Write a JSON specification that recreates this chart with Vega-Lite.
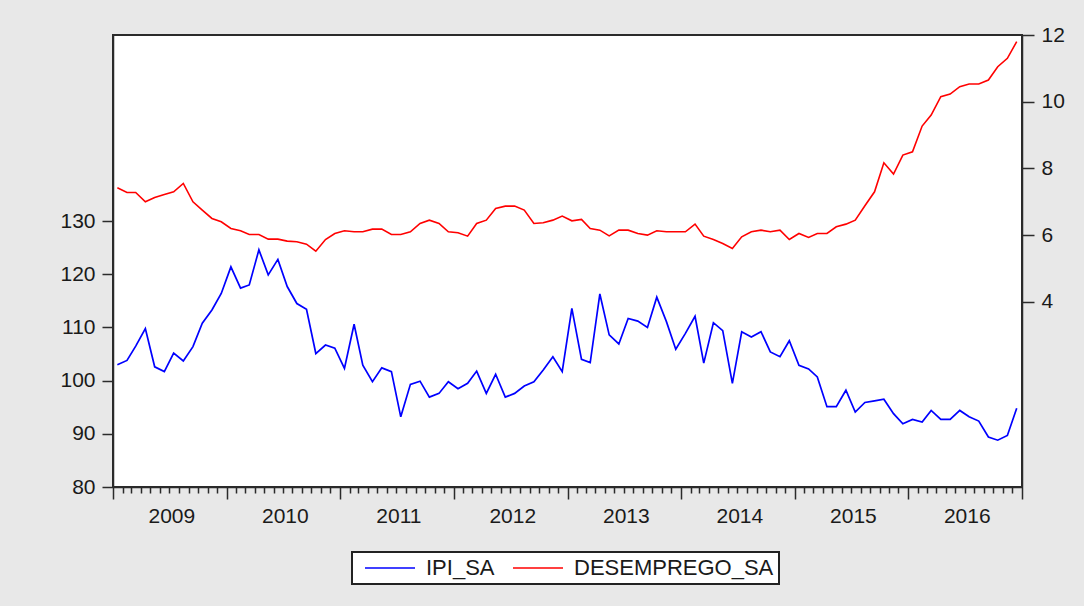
{
 "$schema": "https://vega.github.io/schema/vega-lite/v6.json",
 "width": 909,
 "height": 452,
 "autosize": {"type": "none"},
 "padding": {"left": 113, "top": 35, "right": 62, "bottom": 119},
 "background": "#e8e8e8",
 "config": {
  "view": {"fill": "white", "stroke": "#2b2b2b", "strokeWidth": 2},
  "font": "Liberation Sans",
  "axis": {"labelFont": "Liberation Sans", "labelFontSize": 21, "labelColor": "#1a1a1a", "domainColor": "#2b2b2b", "tickColor": "#2b2b2b", "domainWidth": 1.5, "tickWidth": 1.5, "grid": false}
 },
 "data": {"values": [
  {"date":"2009-01-15","IPI_SA":103.0,"DESEMPREGO_SA":7.42},
  {"date":"2009-02-15","IPI_SA":103.8,"DESEMPREGO_SA":7.28},
  {"date":"2009-03-15","IPI_SA":106.5,"DESEMPREGO_SA":7.28},
  {"date":"2009-04-15","IPI_SA":109.8,"DESEMPREGO_SA":7.0},
  {"date":"2009-05-15","IPI_SA":102.6,"DESEMPREGO_SA":7.13},
  {"date":"2009-06-15","IPI_SA":101.7,"DESEMPREGO_SA":7.22},
  {"date":"2009-07-15","IPI_SA":105.2,"DESEMPREGO_SA":7.30},
  {"date":"2009-08-15","IPI_SA":103.7,"DESEMPREGO_SA":7.55},
  {"date":"2009-09-15","IPI_SA":106.4,"DESEMPREGO_SA":7.0},
  {"date":"2009-10-15","IPI_SA":110.8,"DESEMPREGO_SA":6.75},
  {"date":"2009-11-15","IPI_SA":113.3,"DESEMPREGO_SA":6.5},
  {"date":"2009-12-15","IPI_SA":116.4,"DESEMPREGO_SA":6.4},
  {"date":"2010-01-15","IPI_SA":121.4,"DESEMPREGO_SA":6.2},
  {"date":"2010-02-15","IPI_SA":117.4,"DESEMPREGO_SA":6.13},
  {"date":"2010-03-15","IPI_SA":118.0,"DESEMPREGO_SA":6.02},
  {"date":"2010-04-15","IPI_SA":124.6,"DESEMPREGO_SA":6.02},
  {"date":"2010-05-15","IPI_SA":119.9,"DESEMPREGO_SA":5.88},
  {"date":"2010-06-15","IPI_SA":122.8,"DESEMPREGO_SA":5.88},
  {"date":"2010-07-15","IPI_SA":117.7,"DESEMPREGO_SA":5.82},
  {"date":"2010-08-15","IPI_SA":114.5,"DESEMPREGO_SA":5.8},
  {"date":"2010-09-15","IPI_SA":113.4,"DESEMPREGO_SA":5.73},
  {"date":"2010-10-15","IPI_SA":105.1,"DESEMPREGO_SA":5.52},
  {"date":"2010-11-15","IPI_SA":106.7,"DESEMPREGO_SA":5.87},
  {"date":"2010-12-15","IPI_SA":106.1,"DESEMPREGO_SA":6.05},
  {"date":"2011-01-15","IPI_SA":102.3,"DESEMPREGO_SA":6.13},
  {"date":"2011-02-15","IPI_SA":110.6,"DESEMPREGO_SA":6.1},
  {"date":"2011-03-15","IPI_SA":102.9,"DESEMPREGO_SA":6.1},
  {"date":"2011-04-15","IPI_SA":99.8,"DESEMPREGO_SA":6.18},
  {"date":"2011-05-15","IPI_SA":102.4,"DESEMPREGO_SA":6.18},
  {"date":"2011-06-15","IPI_SA":101.7,"DESEMPREGO_SA":6.02},
  {"date":"2011-07-15","IPI_SA":93.2,"DESEMPREGO_SA":6.02},
  {"date":"2011-08-15","IPI_SA":99.3,"DESEMPREGO_SA":6.1},
  {"date":"2011-09-15","IPI_SA":99.9,"DESEMPREGO_SA":6.35},
  {"date":"2011-10-15","IPI_SA":96.9,"DESEMPREGO_SA":6.45},
  {"date":"2011-11-15","IPI_SA":97.6,"DESEMPREGO_SA":6.35},
  {"date":"2011-12-15","IPI_SA":99.8,"DESEMPREGO_SA":6.1},
  {"date":"2012-01-15","IPI_SA":98.5,"DESEMPREGO_SA":6.07},
  {"date":"2012-02-15","IPI_SA":99.5,"DESEMPREGO_SA":5.97},
  {"date":"2012-03-15","IPI_SA":101.8,"DESEMPREGO_SA":6.35},
  {"date":"2012-04-15","IPI_SA":97.6,"DESEMPREGO_SA":6.45},
  {"date":"2012-05-15","IPI_SA":101.2,"DESEMPREGO_SA":6.8},
  {"date":"2012-06-15","IPI_SA":96.9,"DESEMPREGO_SA":6.87},
  {"date":"2012-07-15","IPI_SA":97.6,"DESEMPREGO_SA":6.87},
  {"date":"2012-08-15","IPI_SA":99.0,"DESEMPREGO_SA":6.75},
  {"date":"2012-09-15","IPI_SA":99.8,"DESEMPREGO_SA":6.35},
  {"date":"2012-10-15","IPI_SA":102.0,"DESEMPREGO_SA":6.37},
  {"date":"2012-11-15","IPI_SA":104.5,"DESEMPREGO_SA":6.45},
  {"date":"2012-12-15","IPI_SA":101.7,"DESEMPREGO_SA":6.57},
  {"date":"2013-01-15","IPI_SA":113.6,"DESEMPREGO_SA":6.43},
  {"date":"2013-02-15","IPI_SA":104.0,"DESEMPREGO_SA":6.47},
  {"date":"2013-03-15","IPI_SA":103.4,"DESEMPREGO_SA":6.2},
  {"date":"2013-04-15","IPI_SA":116.3,"DESEMPREGO_SA":6.15},
  {"date":"2013-05-15","IPI_SA":108.6,"DESEMPREGO_SA":5.98},
  {"date":"2013-06-15","IPI_SA":106.9,"DESEMPREGO_SA":6.15},
  {"date":"2013-07-15","IPI_SA":111.7,"DESEMPREGO_SA":6.15},
  {"date":"2013-08-15","IPI_SA":111.2,"DESEMPREGO_SA":6.05},
  {"date":"2013-09-15","IPI_SA":110.0,"DESEMPREGO_SA":6.0},
  {"date":"2013-10-15","IPI_SA":115.7,"DESEMPREGO_SA":6.13},
  {"date":"2013-11-15","IPI_SA":111.1,"DESEMPREGO_SA":6.1},
  {"date":"2013-12-15","IPI_SA":105.9,"DESEMPREGO_SA":6.1},
  {"date":"2014-01-15","IPI_SA":108.9,"DESEMPREGO_SA":6.1},
  {"date":"2014-02-15","IPI_SA":112.1,"DESEMPREGO_SA":6.33},
  {"date":"2014-03-15","IPI_SA":103.3,"DESEMPREGO_SA":5.97},
  {"date":"2014-04-15","IPI_SA":110.9,"DESEMPREGO_SA":5.87},
  {"date":"2014-05-15","IPI_SA":109.4,"DESEMPREGO_SA":5.75},
  {"date":"2014-06-15","IPI_SA":99.5,"DESEMPREGO_SA":5.6},
  {"date":"2014-07-15","IPI_SA":109.2,"DESEMPREGO_SA":5.95},
  {"date":"2014-08-15","IPI_SA":108.2,"DESEMPREGO_SA":6.1},
  {"date":"2014-09-15","IPI_SA":109.2,"DESEMPREGO_SA":6.15},
  {"date":"2014-10-15","IPI_SA":105.4,"DESEMPREGO_SA":6.1},
  {"date":"2014-11-15","IPI_SA":104.5,"DESEMPREGO_SA":6.15},
  {"date":"2014-12-15","IPI_SA":107.5,"DESEMPREGO_SA":5.87},
  {"date":"2015-01-15","IPI_SA":102.9,"DESEMPREGO_SA":6.05},
  {"date":"2015-02-15","IPI_SA":102.2,"DESEMPREGO_SA":5.93},
  {"date":"2015-03-15","IPI_SA":100.7,"DESEMPREGO_SA":6.05},
  {"date":"2015-04-15","IPI_SA":95.1,"DESEMPREGO_SA":6.05},
  {"date":"2015-05-15","IPI_SA":95.1,"DESEMPREGO_SA":6.25},
  {"date":"2015-06-15","IPI_SA":98.2,"DESEMPREGO_SA":6.33},
  {"date":"2015-07-15","IPI_SA":94.1,"DESEMPREGO_SA":6.45},
  {"date":"2015-08-15","IPI_SA":95.9,"DESEMPREGO_SA":6.88},
  {"date":"2015-09-15","IPI_SA":96.2,"DESEMPREGO_SA":7.3},
  {"date":"2015-10-15","IPI_SA":96.5,"DESEMPREGO_SA":8.17},
  {"date":"2015-11-15","IPI_SA":93.8,"DESEMPREGO_SA":7.83},
  {"date":"2015-12-15","IPI_SA":91.9,"DESEMPREGO_SA":8.4},
  {"date":"2016-01-15","IPI_SA":92.7,"DESEMPREGO_SA":8.5},
  {"date":"2016-02-15","IPI_SA":92.2,"DESEMPREGO_SA":9.27},
  {"date":"2016-03-15","IPI_SA":94.4,"DESEMPREGO_SA":9.6},
  {"date":"2016-04-15","IPI_SA":92.7,"DESEMPREGO_SA":10.15},
  {"date":"2016-05-15","IPI_SA":92.7,"DESEMPREGO_SA":10.23},
  {"date":"2016-06-15","IPI_SA":94.4,"DESEMPREGO_SA":10.45},
  {"date":"2016-07-15","IPI_SA":93.2,"DESEMPREGO_SA":10.53},
  {"date":"2016-08-15","IPI_SA":92.4,"DESEMPREGO_SA":10.53},
  {"date":"2016-09-15","IPI_SA":89.4,"DESEMPREGO_SA":10.65},
  {"date":"2016-10-15","IPI_SA":88.8,"DESEMPREGO_SA":11.05},
  {"date":"2016-11-15","IPI_SA":89.7,"DESEMPREGO_SA":11.3},
  {"date":"2016-12-15","IPI_SA":94.8,"DESEMPREGO_SA":11.8}
 ]},
 "encoding": {
  "x": {
   "field": "date", "type": "temporal",
   "scale": {"type": "utc", "domain": [{"year": 2009, "month": 1, "date": 1, "utc": true}, {"year": 2017, "month": 1, "date": 1, "utc": true}], "nice": false},
   "axis": {
    "title": null,
    "tickCount": {"interval": "month", "step": 1},
    "tickSize": {"condition": {"test": "utcmonth(datum.value) === 0", "value": 12}, "value": 6},
    "labelExpr": "utcmonth(datum.value) === 6 ? utcFormat(datum.value, '%Y') : ''",
    "labelOverlap": false,
    "labelFlush": false,
    "labelBound": false,
    "labelPadding": 12,
    "labelOffset": 2
   }
  }
 },
 "layer": [
  {
   "mark": {"type": "line", "strokeWidth": 1.7},
   "encoding": {
    "y": {"field": "IPI_SA", "type": "quantitative",
     "scale": {"domain": [80, 165], "nice": false, "zero": false},
     "axis": {"title": null, "orient": "left", "values": [80, 90, 100, 110, 120, 130], "tickSize": 11, "labelPadding": 7}},
    "color": {"datum": "IPI_SA", "type": "nominal",
     "scale": {"domain": ["IPI_SA", "DESEMPREGO_SA"], "range": ["#0000ff", "#ff0000"]},
     "legend": {"title": null, "orient": "none", "legendX": 239, "legendY": 517, "direction": "horizontal",
      "symbolType": "M-5,0H5", "symbolSize": 100, "symbolStrokeWidth": 1.5,
      "labelFont": "Liberation Sans", "labelFontSize": 22, "labelColor": "#1a1a1a", "labelOffset": 25, "labelLimit": 400,
      "columnPadding": 10, "padding": 5, "symbolOffset": 22,
      "fillColor": "white", "strokeColor": "#222",
      "encode": {"legend": {"update": {"strokeWidth": {"value": 2}}}}}}
   }
  },
  {
   "mark": {"type": "line", "strokeWidth": 1.6},
   "encoding": {
    "y": {"field": "DESEMPREGO_SA", "type": "quantitative",
     "scale": {"domain": [-1.55, 12], "nice": false, "zero": false},
     "axis": {"title": null, "orient": "right", "values": [4, 6, 8, 10, 12], "tickSize": 12, "labelPadding": 7}},
    "color": {"datum": "DESEMPREGO_SA", "type": "nominal"}
   }
  }
 ],
 "resolve": {"scale": {"y": "independent"}}
}
